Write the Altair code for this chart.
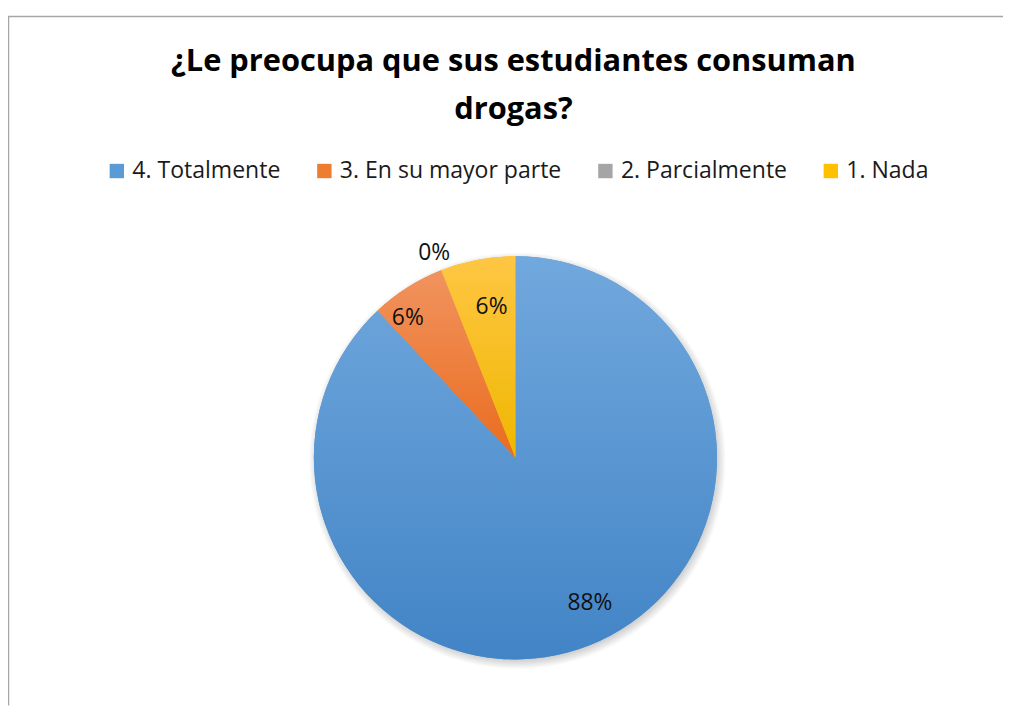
import math
import altair as alt
import pandas as pd

# ---- data ----
categories = ["4. Totalmente", "3. En su mayor parte", "2. Parcialmente", "1. Nada"]
values = [88, 6, 0, 6]
labels = ["88%", "6%", "0%", "6%"]
colors = ["#5b9bd5", "#ed7d31", "#a5a5a5", "#ffc000"]
title_lines = ["¿Le preocupa que sus estudiantes consuman", "drogas?"]

df = pd.DataFrame({"cat": categories, "val": values, "lab": labels, "order": list(range(len(categories)))})
total = sum(values)

# ---- layout (chart coords = page coords - 8) ----
W, H = 1002, 700
CX, CY = 511, 450.5
R = 203
FONT = "Open Sans"

theta_scale = alt.Scale(domain=[0, total], range=[0, 2 * math.pi])

base = alt.Chart(df).transform_window(
    cum="sum(val)", sort=[alt.SortField("order")], frame=[None, 0]
).transform_calculate(
    start="datum.cum - datum.val", mid="datum.cum - datum.val / 2"
)

# shadow
shadow = alt.Chart(pd.DataFrame({"k": [0]})).mark_arc(
    fill=alt.RadialGradient(
        gradient="radial", x1=0.5, y1=0.5, r1=0, x2=0.5, y2=0.5, r2=0.5,
        stops=[
            alt.GradientStop(offset=0, color="rgba(0,0,0,0.30)"),
            alt.GradientStop(offset=0.93, color="rgba(0,0,0,0.28)"),
            alt.GradientStop(offset=1, color="rgba(0,0,0,0)"),
        ],
    ),
    radius=R + 7,
).encode(
    theta=alt.value(0), theta2=alt.value(2 * math.pi),
    x=alt.value(CX + 2), y=alt.value(CY + 3),
)

# flat arcs carrying the legend
flat = base.mark_arc(radius=R).encode(
    theta=alt.Theta("start:Q", scale=theta_scale, stack=False),
    theta2="cum:Q",
    color=alt.Color(
        "cat:N",
        scale=alt.Scale(domain=categories, range=colors),
        legend=alt.Legend(
            title=None, orient="none", legendX=98, legendY=150,
            direction="horizontal", symbolType="square", symbolSize=210,
            symbolStrokeWidth=0, labelFont=FONT, labelFontSize=23.2,
            labelColor="#1a1a1a", labelOffset=4, columnPadding=32, padding=0,
            labelLimit=0,
        ),
    ),
    x=alt.value(CX), y=alt.value(CY),
)

grads = {
    "4. Totalmente": ("#71a8dd", "#4284c6"),
    "3. En su mayor parte": ("#f1935f", "#ea6c1e"),
    "2. Parcialmente": ("#b5b5b5", "#969696"),
    "1. Nada": ("#ffc644", "#efb700"),
}

layers = [shadow, flat]
for cat in categories:
    c1, c2 = grads[cat]
    layers.append(
        base.transform_filter(alt.datum.cat == cat).mark_arc(
            radius=R,
            fill=alt.LinearGradient(
                gradient="linear", x1=0, y1=0, x2=0, y2=1,
                stops=[alt.GradientStop(offset=0, color=c1), alt.GradientStop(offset=1, color=c2)],
            ),
        ).encode(
            theta=alt.Theta("start:Q", scale=theta_scale, stack=False),
            theta2="cum:Q",
            x=alt.value(CX), y=alt.value(CY),
        )
    )

# data labels (radius / nudge per label)
label_style = {
    "4. Totalmente": (163, 15, -5),
    "3. En su mayor parte": (178, -13, 10),
    "2. Parcialmente": (222, 0, 0),
    "1. Nada": (155, 5, 0),
}
for cat in categories:
    r, dx, dy = label_style[cat]
    layers.append(
        base.transform_filter(alt.datum.cat == cat).mark_text(
            radius=r, dx=dx, dy=dy, font=FONT, fontSize=23, color="#111111",
            align="center", baseline="middle",
        ).encode(
            theta=alt.Theta("mid:Q", scale=theta_scale, stack=False),
            text="lab:N",
            x=alt.value(CX), y=alt.value(CY),
        )
    )

# title
for i, line in enumerate(title_lines):
    layers.append(
        alt.Chart(pd.DataFrame({"t": [line]})).mark_text(
            font=FONT, fontSize=31, fontWeight="bold", color="#000000",
            align="center", baseline="middle",
        ).encode(text="t:N", x=alt.value(509), y=alt.value(52 + 48 * i))
    )

# frame
layers.append(
    alt.Chart(pd.DataFrame({"k": [0]})).mark_rule(color="#a6a6a6", strokeWidth=1.5).encode(
        x=alt.value(0), x2=alt.value(W), y=alt.value(6)
    )
)
layers.append(
    alt.Chart(pd.DataFrame({"k": [0]})).mark_rule(color="#a6a6a6", strokeWidth=1.5).encode(
        x=alt.value(0.5), y=alt.value(6), y2=alt.value(H)
    )
)

chart = alt.layer(*layers).properties(
    width=W, height=H, autosize=alt.AutoSizeParams(type="none"), padding=0
).configure_view(stroke=None)

chart.save("out.html", embed_options={"renderer": "svg", "actions": False})
